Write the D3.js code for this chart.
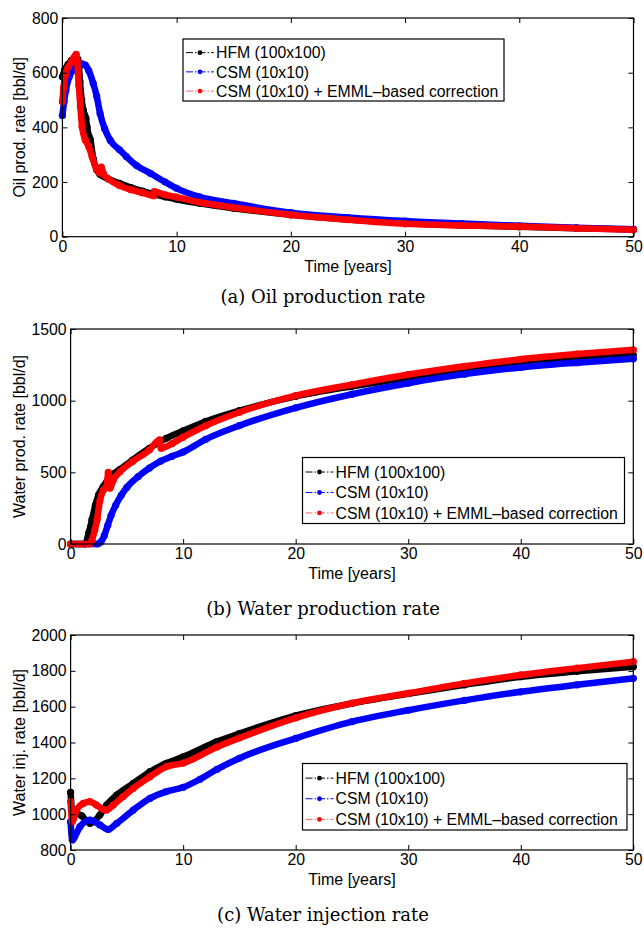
<!DOCTYPE html>
<html>
<head>
<meta charset="utf-8">
<script src="https://cdn.jsdelivr.net/npm/d3@7"></script>
<style>
  html, body { margin: 0; padding: 0; background: #fff; }
  svg { display: block; }
</style>
</head>
<body>
<svg id="chart" width="644" height="929"></svg>
<script>
// ---------------- DATA ----------------
const seriesNames = ["HFM (100x100)", "CSM (10x10)", "CSM (10x10) + EMML\u2013based correction"];
const seriesColors = ["#000000", "#0000ff", "#ff0000"];
const xTicks = [0, 10, 20, 30, 40, 50];

// (a) Oil production rate [bbl/d]  -- [time (years), rate]
const oilHFM = [[0,585],[0.2,610],[0.5,630],[0.8,645],[1.1,652],[1.35,650],[1.45,620],[1.54,567],[1.69,500],[1.83,463],[2.06,433],[2.16,402],[2.34,366],[2.45,354],[2.7,285],[3.0,245],[3.3,228],[4,212],[5,195],[6,180],[7,167],[8,156],[9,146],[10,137],[12,122],[15,104],[20,80],[25,63],[30,50],[35,42],[40,36],[45,31],[50,27]];
const oilCSM = [[0,443],[0.15,495],[0.3,535],[0.6,585],[1.0,612],[1.4,627],[1.7,632],[2.0,628],[2.3,608],[2.7,561],[3.0,515],[3.3,451],[3.7,395],[4.2,352],[5,318],[5.6,293],[6.5,260],[7.7,232],[9,200],[10,177],[12,146],[15,122],[20,88],[25,70],[30,57],[35,48],[40,40],[45,33],[50,27]];
const oilEMML = [[0,494],[0.1,545],[0.25,590],[0.5,620],[0.8,640],[1.0,655],[1.2,667],[1.3,640],[1.43,555],[1.57,476],[1.72,402],[2.0,354],[2.3,330],[2.6,293],[3.0,245],[3.3,233],[3.4,255],[3.6,230],[4,212],[5,187],[6,172],[7,161],[8,150],[8.05,165],[9,153],[10,145],[12,126],[15,107],[20,80],[25,62],[30,47],[35,41],[40,37],[45,31],[50,25]];
const oilYTicks = [0, 200, 400, 600, 800];

// (b) Water production rate [bbl/d]
const wprodHFM = [[0,0],[1.3,0],[1.6,75],[1.9,170],[2.2,270],[2.5,345],[2.9,400],[3.5,470],[4.4,520],[5.5,586],[7,668],[8.5,737],[10,790],[12,855],[15,930],[20,1030],[25,1100],[30,1160],[35,1215],[40,1262],[45,1293],[50,1319]];
const wprodCSM = [[0,0],[2.4,0],[2.7,15],[3.0,60],[3.3,130],[3.6,200],[4.0,270],[4.5,340],[5,395],[6,470],[7,530],[8,578],[9,612],[10,642],[12,730],[15,826],[20,950],[25,1045],[30,1122],[35,1185],[40,1232],[45,1265],[50,1293]];
const wprodEMML = [[0,0],[1.7,0],[1.9,28],[2.15,98],[2.35,167],[2.6,300],[2.9,375],[3.2,400],[3.35,500],[3.5,390],[3.8,447],[4.4,505],[5.5,575],[7,656],[7.9,726],[8.05,668],[9,700],[10,745],[12,825],[15,919],[20,1035],[25,1112],[30,1182],[35,1240],[40,1289],[45,1325],[50,1354]];
const wprodYTicks = [0, 500, 1000, 1500];

// (c) Water injection rate [bbl/d]
const winjHFM = [[0,1122],[0.2,980],[0.53,1005],[1.0,990],[1.72,949],[2.6,995],[3.2,1051],[4.1,1107],[5.57,1172],[7.05,1237],[8.5,1284],[10,1320],[13,1405],[15,1450],[20,1550],[25,1618],[30,1672],[35,1722],[40,1767],[45,1797],[50,1823]];
const winjCSM = [[0,958],[0.15,856],[0.83,930],[1.72,967],[2.6,940],[3.35,915],[4.1,949],[5.57,1023],[7.05,1088],[8.5,1126],[10,1150],[11.5,1195],[13,1250],[15,1312],[20,1423],[25,1516],[30,1580],[35,1635],[40,1683],[45,1722],[50,1758]];
const winjEMML = [[0,1070],[0.15,958],[0.53,1023],[1.12,1060],[1.72,1070],[2.3,1051],[2.9,1027],[3.2,1023],[3.79,1051],[4.67,1098],[5.57,1144],[7.05,1209],[8.5,1265],[10,1285],[13,1375],[15,1425],[20,1538],[25,1619],[30,1675],[35,1730],[40,1777],[45,1815],[50,1851]];
const winjYTicks = [800, 1000, 1200, 1400, 1600, 1800, 2000];

// ---------------- DRAWING ----------------
const svg = d3.select("#chart");
const sansFont = "'Liberation Sans', Arial, Helvetica, sans-serif";
const serifFont = "'DejaVu Serif', 'Liberation Serif', serif";

const panels = [
  { series: [oilHFM, oilCSM, oilEMML], yDomain: [0, 800], yTicks: oilYTicks,
    yLabel: "Oil prod. rate [bbl/d]", caption: "(a) Oil production rate", capY: 303,
    box: { l: 62.4, r: 633.5, t: 18, b: 236.7 },
    legend: { x: 183, y: 39, w: 321, h: 62 } },
  { series: [wprodHFM, wprodCSM, wprodEMML], yDomain: [0, 1500], yTicks: wprodYTicks,
    yLabel: "Water prod. rate [bbl/d]", caption: "(b) Water production rate", capY: 615,
    box: { l: 70.6, r: 633.3, t: 329, b: 544 },
    legend: { x: 302.5, y: 457.5, w: 322, h: 66 } },
  { series: [winjHFM, winjCSM, winjEMML], yDomain: [800, 2000], yTicks: winjYTicks,
    yLabel: "Water inj. rate [bbl/d]", caption: "(c) Water injection rate", capY: 921,
    box: { l: 70.6, r: 633.3, t: 635, b: 850 },
    legend: { x: 302.5, y: 763.5, w: 324.5, h: 66.5 } }
];

panels.forEach(p => {
  const B = p.box;
  const x = d3.scaleLinear().domain([0, 50]).range([B.l, B.r]);
  const y = d3.scaleLinear().domain(p.yDomain).range([B.b, B.t]);
  const g = svg.append("g");

  // data
  const line = d3.line().x(d => x(d[0])).y(d => y(d[1])).curve(d3.curveMonotoneX);
  p.series.forEach((s, i) => {
    g.append("path").datum(s)
      .attr("d", line)
      .attr("fill", "none")
      .attr("stroke", seriesColors[i])
      .attr("stroke-width", 6.5)
      .attr("stroke-linejoin", "round")
      .attr("stroke-linecap", "round");
    g.append("g").selectAll("circle").data(s).join("circle")
      .attr("cx", d => x(d[0])).attr("cy", d => y(d[1]))
      .attr("r", 3.6).attr("fill", seriesColors[i]);
  });

  // axes (MATLAB style: box, inward ticks on all sides)
  const tickLen = 5;
  const axB = g.append("g").attr("transform", `translate(0,${B.b})`)
    .call(d3.axisBottom(x).tickValues(xTicks).tickSizeInner(-tickLen).tickSizeOuter(0).tickPadding(6).tickFormat(d3.format("d")));
  const axT = g.append("g").attr("transform", `translate(0,${B.t})`)
    .call(d3.axisTop(x).tickValues(xTicks).tickSizeInner(-tickLen).tickSizeOuter(0).tickFormat(""));
  const axL = g.append("g").attr("transform", `translate(${B.l},0)`)
    .call(d3.axisLeft(y).tickValues(p.yTicks).tickSizeInner(-tickLen).tickSizeOuter(0).tickPadding(4).tickFormat(d3.format("d")));
  const axR = g.append("g").attr("transform", `translate(${B.r},0)`)
    .call(d3.axisRight(y).tickValues(p.yTicks).tickSizeInner(-tickLen).tickSizeOuter(0).tickFormat(""));
  [axB, axT, axL, axR].forEach(a => {
    a.select(".domain").remove();
    a.selectAll("line").attr("stroke", "#000").attr("stroke-width", 1);
    a.selectAll("text").attr("font-family", sansFont).attr("font-size", 15.8).attr("fill", "#000");
  });
  axB.selectAll("text").attr("dy", "0.75em").attr("y", 3);
  g.append("rect").attr("x", B.l).attr("y", B.t).attr("width", B.r - B.l).attr("height", B.b - B.t)
    .attr("fill", "none").attr("stroke", "#000").attr("stroke-width", 1.2);

  // axis labels
  g.append("text").attr("x", (B.l + B.r) / 2).attr("y", B.b + 35)
    .attr("text-anchor", "middle").attr("font-family", sansFont).attr("font-size", 16)
    .text("Time [years]");
  g.append("text").attr("transform", `translate(25,${(B.t + B.b) / 2}) rotate(-90)`)
    .attr("text-anchor", "middle").attr("font-family", sansFont).attr("font-size", 16)
    .text(p.yLabel);

  // caption
  g.append("text").attr("x", 323).attr("y", p.capY)
    .attr("text-anchor", "middle").attr("font-family", serifFont).attr("font-size", 18)
    .text(p.caption);

  // legend
  const L = p.legend;
  const lg = g.append("g");
  lg.append("rect").attr("x", L.x).attr("y", L.y).attr("width", L.w).attr("height", L.h)
    .attr("fill", "#fff").attr("stroke", "#000").attr("stroke-width", 1.2);
  seriesNames.forEach((name, i) => {
    const cy = L.y + L.h * (0.22 + 0.31 * i);
    lg.append("line").attr("x1", L.x + 3).attr("x2", L.x + 31).attr("y1", cy).attr("y2", cy)
      .attr("stroke", seriesColors[i]).attr("stroke-width", 1)
      .attr("stroke-dasharray", "7,2,1.5,2").attr("opacity", i === 2 ? 0.6 : 1);
    lg.append("circle").attr("cx", L.x + 17).attr("cy", cy).attr("r", 2.4).attr("fill", seriesColors[i]);
    lg.append("text").attr("x", L.x + 33).attr("y", cy).attr("dy", "0.36em")
      .attr("font-family", sansFont).attr("font-size", 15.8).text(name);
  });
});
</script>
</body>
</html>
